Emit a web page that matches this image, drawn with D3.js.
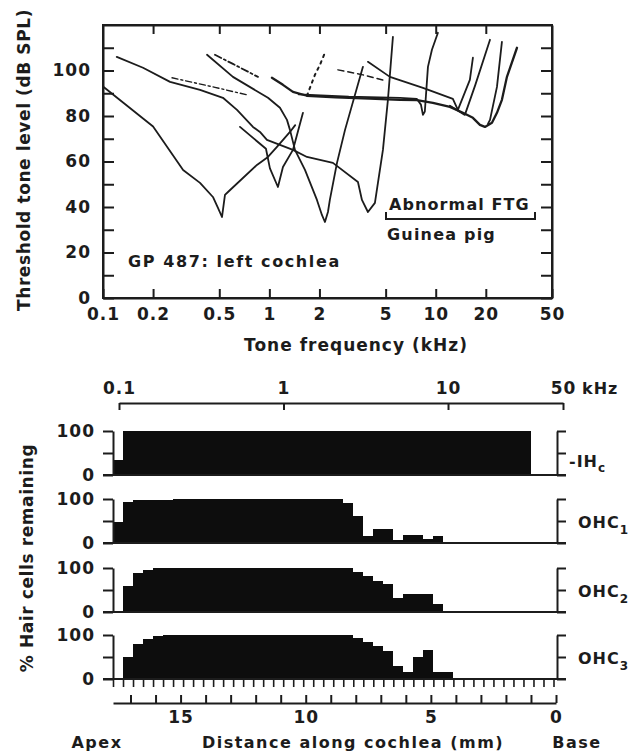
<!DOCTYPE html>
<html>
<head>
<meta charset="utf-8">
<script src="https://cdn.jsdelivr.net/npm/d3@7"></script>
<style>
  body { margin: 0; background: #fff; }
  svg { display: block; background: #fff; }
  text { font-family: "DejaVu Sans", sans-serif; font-weight: bold; fill: #1c1c1c; }
</style>
</head>
<body>
<svg id="chart" width="628" height="751"></svg>
<script>
// ---- Frequency threshold curves: [tone frequency (kHz), threshold (dB SPL)] ----
const cf0_5 = [[0.1,93],[0.2,75.4],[0.303,56.3],[0.383,50.6],[0.458,44.4],[0.491,39.6],[0.519,35.6],[0.541,45.3],[0.564,46.6],[0.842,58.5],[0.981,62],[1.111,66.4],[1.33,73],[1.43,76]];
const cf1_1 = [[0.666,75.2],[0.954,65.6],[1.008,57],[1.126,48.8],[1.207,57.6],[1.386,65.1],[1.592,81.4]];
const cf3_9 = [[0.121,106],[0.174,101.2],[0.253,95],[0.383,91.5],[0.526,88],[0.639,82.7],[0.797,75.2],[0.878,73],[0.967,69.5],[1.386,65.1],[1.683,62],[2.41,59.4],[3.408,51],[3.602,43.1],[3.913,37.8],[4.311,41.8],[4.494,50.6],[4.816,65.1],[5.16,87.1],[5.53,114.8]];
const cf2_2 = [[0.422,106.9],[0.604,97.2],[0.981,88],[1.158,83.6],[1.276,78.3],[1.33,73.9],[1.425,65.1],[1.637,56.3],[1.932,43.1],[2.07,36.5],[2.158,33.4],[2.25,37.8],[2.31,43.1],[2.55,59.4],[2.85,73.9],[3.652,101.6]];
const cf20Dashed = [[0.471,106.9],[0.604,102.9],[0.854,97.2]];
const cf20 = [[1.036,96.8],[1.207,93.7],[1.386,90.6],[1.683,88.9],[2.5,88.2],[4,87.6],[6.093,87.1],[7.71,87],[9.62,85.8],[12.17,84],[14.57,81.4],[16.73,79.2],[18.44,76.1],[19.76,75.2],[21.78,77],[23.34,81.4],[25.0,87.1],[26.8,97.2],[30.8,110]];
const lowTailDashed = [[0.26,96.8],[0.471,92.6],[0.733,89.3]];
const dottedArm = [[1.683,88.9],[1.754,92.4],[1.879,98.1],[2.014,102.5],[2.158,107.8]];
const cf8_4 = [[1.5,89.5],[3,88.5],[6.093,88],[7.71,87.5],[8.15,85],[8.38,80.5],[8.6,82],[8.98,101.6],[9.49,109.1],[10.31,116.6]];
const cf15Dashed = [[2.584,100.3],[3.652,98.1],[5.0,95.5]];
const cf13 = [[3.913,103.8],[5.306,97.2],[8.38,92.4],[12.68,87.5],[13.59,82.7],[16.04,95.9],[16.73,105.6]];
const cf15 = [[12.17,84.5],[14.97,80.5],[17.3,93.7],[21.2,113.5]];
const cf21 = [[20.6,76.5],[21.2,78.3],[23.34,92.8],[25.0,112.6]];

// ---- Axis ticks ----
const freqTicks = [0.1,0.2,0.5,1,2,5,10,20,50];
const freqLabels = ["0.1","0.2","0.5","1","2","5","10","20","50"];
const freqInner = [0.2,0.5,1,2,5,10,20];
const dbTicks = [0,10,20,30,40,50,60,70,80,90,100,110];
const dbLabels = [0,20,40,60,80,100];
const placeTicks = [0.1,1,10,50];
const placeLabels = ["0.1","1","10","50"];
const pctTicks = [0,50,100];
const pctLabels = [0,100];
const mmTicks = [0,1,2,3,4,5,6,7,8,9,10,11,12,13,14,15,16,17];
const mmLabels = [0,5,10,15];

// ---- Hair cells remaining: [from mm, to mm, % remaining] along the cochlea ----
const ihcRuns  = [[17.7,17.3,35],[17.3,1.0,100]];
const ohc1Runs = [[17.7,17.3,48],[17.3,16.9,93],[16.9,15.3,98],[15.3,8.5,100],[8.5,8.1,92],[8.1,7.7,62],[7.7,7.3,17],[7.3,6.5,32],[6.5,6.1,6],[6.1,5.3,19],[5.3,4.9,9],[4.9,4.5,17]];
const ohc2Runs = [[17.3,16.9,60],[16.9,16.5,88],[16.5,16.1,96],[16.1,8.1,100],[8.1,7.7,91],[7.7,7.3,82],[7.3,6.9,70],[6.9,6.5,64],[6.5,6.1,31],[6.1,4.9,40],[4.9,4.5,18]];
const ohc3Runs = [[17.3,16.9,49],[16.9,16.5,79],[16.5,16.1,91],[16.1,15.7,97],[15.7,8.1,100],[8.1,7.7,93],[7.7,7.3,84],[7.3,6.9,75],[6.9,6.5,63],[6.5,6.1,29],[6.1,5.7,17],[5.7,5.3,49],[5.3,4.9,67],[4.9,4.1,17]];
const rowNames = ["IH","OHC","OHC","OHC"];
const rowSubs = ["c","1","2","3"];

const ink = "#1c1c1c";
const svg = d3.select("#chart");

function styleAxis(g, fs, sw) {
  g.attr("font-family", null).attr("font-size", null);
  g.selectAll("path.domain").attr("stroke", ink).attr("stroke-width", sw || 2);
  g.selectAll(".tick line").attr("stroke", ink).attr("stroke-width", sw || 2);
  g.selectAll(".tick text").attr("fill", ink).style("font-size", fs + "px").style("letter-spacing", "1px");
  return g;
}

// ================= Threshold tuning curves =================
const x = d3.scaleLog().domain([0.1, 50]).range([103, 552]);
const y = d3.scaleLinear().domain([0, 120]).range([298, 25]);

styleAxis(svg.append("g").attr("transform", "translate(103,0)")
  .call(d3.axisLeft(y).tickValues(dbTicks).tickSize(-11).tickSizeOuter(0).tickPadding(12)
    .tickFormat(d => dbLabels.includes(d) ? d : "")), 17);
styleAxis(svg.append("g").attr("transform", "translate(552,0)")
  .call(d3.axisRight(y).tickValues(dbTicks).tickSize(-11).tickSizeOuter(0).tickFormat("")), 17);
styleAxis(svg.append("g").attr("transform", "translate(0,298)")
  .call(d3.axisBottom(x).tickValues(freqTicks).tickSize(-9).tickSizeOuter(0).tickPadding(10)
    .tickFormat((d, i) => freqLabels[i])), 17);
styleAxis(svg.append("g").attr("transform", "translate(0,25)")
  .call(d3.axisTop(x).tickValues(freqInner).tickSize(-9).tickSizeOuter(0).tickFormat("")), 17);

svg.append("rect").attr("x", 103).attr("y", 25).attr("width", 449).attr("height", 273)
  .attr("fill", "none").attr("stroke", ink).attr("stroke-width", 2);

const line = d3.line().x(d => x(d[0])).y(d => y(d[1]));
const curves = [
  { d: cf0_5 }, { d: cf1_1 }, { d: cf3_9 }, { d: cf2_2 },
  { d: cf20Dashed, dash: "7,3,2,3" }, { d: cf20, w: 2.3 },
  { d: lowTailDashed, dash: "6,3,2,3", w: 1.4 },
  { d: dottedArm, dash: "2.5,4.5", w: 2 },
  { d: cf8_4 }, { d: cf15Dashed, dash: "6,4", w: 1.4 },
  { d: cf13 }, { d: cf15 }, { d: cf21 }
];
svg.append("g").selectAll("path").data(curves).join("path")
  .attr("d", c => line(c.d))
  .attr("fill", "none").attr("stroke", ink)
  .attr("stroke-width", c => c.w || 1.8)
  .attr("stroke-dasharray", c => c.dash || null)
  .attr("stroke-linejoin", "round").attr("stroke-linecap", "round");

svg.append("text").attr("transform", "translate(30,160) rotate(-90)")
  .attr("text-anchor", "middle").style("font-size", "17px").style("letter-spacing", "0.6px")
  .text("Threshold tone level (dB SPL)");
svg.append("text").attr("x", 356).attr("y", 351).attr("text-anchor", "middle")
  .style("font-size", "17px").style("letter-spacing", "1px").text("Tone frequency (kHz)");
svg.append("text").attr("x", 128).attr("y", 267)
  .style("font-size", "16px").style("letter-spacing", "1.6px").text("GP 487: left cochlea");
svg.append("text").attr("x", 389).attr("y", 210)
  .style("font-size", "16px").style("letter-spacing", "1.1px").text("Abnormal FTG");
svg.append("path").attr("d", "M386,212V219H535V212").attr("fill", "none")
  .attr("stroke", ink).attr("stroke-width", 2);
svg.append("text").attr("x", 387).attr("y", 240)
  .style("font-size", "16px").style("letter-spacing", "1.2px").text("Guinea pig");

// ================= Hair cell counts along the cochlea =================
const xf = d3.scaleLog().domain([0.1, 50]).range([119, 563]);
styleAxis(svg.append("g").attr("transform", "translate(0,403)")
  .call(d3.axisTop(xf).tickValues(placeTicks).tickSize(-7).tickSizeOuter(0).tickPadding(9)
    .tickFormat((d, i) => placeLabels[i])), 17);
svg.append("text").attr("x", 582).attr("y", 394)
  .style("font-size", "16px").style("letter-spacing", "1px").text("kHz");

const xd = d3.scaleLinear().domain([0, 17.7]).range([556, 113]);
const rows = [
  { runs: ihcRuns, base: 475 },
  { runs: ohc1Runs, base: 543 },
  { runs: ohc2Runs, base: 612 },
  { runs: ohc3Runs, base: 679 }
];

rows.forEach((r, i) => {
  const ry = d3.scaleLinear().domain([0, 100]).range([r.base, r.base - 44]);
  const g = svg.append("g");
  g.append("g").selectAll("rect").data(r.runs).join("rect")
    .attr("x", d => xd(d[0])).attr("width", d => xd(d[1]) - xd(d[0]))
    .attr("y", d => ry(d[2])).attr("height", d => ry(0) - ry(d[2]))
    .attr("fill", "#0d0d0d").attr("shape-rendering", "crispEdges");
  styleAxis(g.append("g").attr("transform", "translate(113,0)")
    .call(d3.axisLeft(ry).tickValues(pctTicks).tickSize(10).tickSizeOuter(0).tickPadding(8)
      .tickFormat(d => pctLabels.includes(d) ? d : "")), 17);
  styleAxis(g.append("g").attr("transform", "translate(557,0)")
    .call(d3.axisRight(ry).tickValues(pctTicks).tickSize(9).tickSizeOuter(0).tickFormat("")), 17);
  g.append("line").attr("x1", 103).attr("x2", 566).attr("y1", r.base).attr("y2", r.base)
    .attr("stroke", ink).attr("stroke-width", 2);
  const lbl = g.append("text").attr("x", i === 0 ? 569 : 578).attr("y", ry(50) + (i === 0 ? 14 : 7))
    .style("font-size", "16px").style("letter-spacing", "1px");
  lbl.text((i === 0 ? "-" : "") + rowNames[i]);
  lbl.append("tspan").attr("dy", i === 0 ? 5 : 6).style("font-size", "12px").text(rowSubs[i]);
});

// bin marks along the bottom row
const binEdges = d3.range(0.1, 17.75, 0.4);
const bins = svg.append("g").attr("transform", "translate(0,680)")
  .call(d3.axisBottom(xd).tickValues(binEdges).tickSize(7).tickSizeOuter(0).tickFormat(""));
styleAxis(bins, 17, 1.6);
bins.select("path.domain").remove();

styleAxis(svg.append("g").attr("transform", "translate(0,703)")
  .call(d3.axisBottom(xd).tickValues(mmTicks).tickSize(-8).tickSizeOuter(0).tickPadding(8)
    .tickFormat(d => mmLabels.includes(d) ? d : "")), 17);

svg.append("text").attr("transform", "translate(33,558) rotate(-90)")
  .attr("text-anchor", "middle").style("font-size", "17px").style("letter-spacing", "0.6px")
  .text("% Hair cells remaining");
svg.append("text").attr("x", 97).attr("y", 748).attr("text-anchor", "middle")
  .style("font-size", "16px").style("letter-spacing", "1.5px").text("Apex");
svg.append("text").attr("x", 353).attr("y", 748).attr("text-anchor", "middle")
  .style("font-size", "16px").style("letter-spacing", "1.5px").text("Distance along cochlea (mm)");
svg.append("text").attr("x", 577).attr("y", 748).attr("text-anchor", "middle")
  .style("font-size", "16px").style("letter-spacing", "1.5px").text("Base");
</script>
</body>
</html>
